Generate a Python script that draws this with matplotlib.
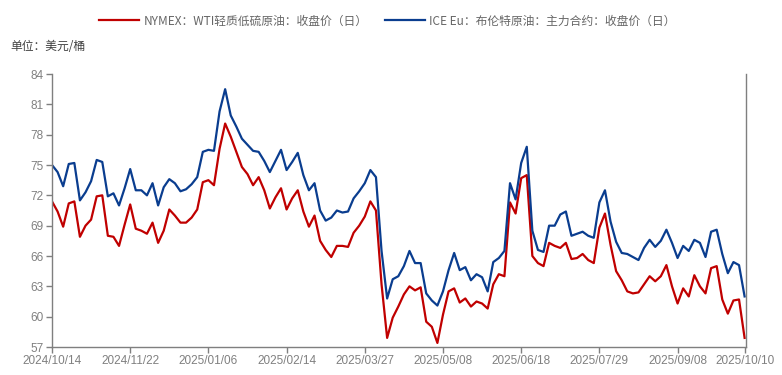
import numpy as np
import matplotlib.pyplot as plt

# one value every 2 trading days, 2024/10/14 .. 2025/10/10
wti = [71.4, 70.4, 68.9, 71.2, 71.4, 67.9, 69.0, 69.6, 71.9, 72.0,
       68.0, 67.9, 67.0, 69.1, 71.1, 68.7, 68.5, 68.2, 69.3, 67.3,
       68.5, 70.6, 70.0, 69.3, 69.3, 69.8, 70.6, 73.3, 73.5, 73.0,
       76.6, 79.1, 77.8, 76.3, 74.8, 74.1, 73.0, 73.8, 72.5, 70.7,
       71.8, 72.7, 70.6, 71.7, 72.5, 70.4, 68.9, 70.0, 67.5, 66.6,
       65.9, 67.0, 67.0, 66.9, 68.3, 69.0, 69.9, 71.4, 70.5, 63.2,
       57.9, 59.9, 61.0, 62.2, 63.0, 62.6, 62.9, 59.5, 59.0, 57.4,
       60.2, 62.5, 62.8, 61.4, 61.8, 61.0, 61.5, 61.3, 60.8, 63.2,
       64.2, 64.0, 71.3, 70.2, 73.7, 74.0, 66.0, 65.3, 65.0, 67.3,
       67.0, 66.8, 67.3, 65.7, 65.8, 66.2, 65.6, 65.3, 68.8, 70.2,
       67.1, 64.5, 63.6, 62.5, 62.3, 62.4, 63.2, 64.0, 63.5, 64.0,
       65.1, 63.0, 61.3, 62.8, 62.0, 64.1, 63.0, 62.3, 64.8, 65.0,
       61.7, 60.3, 61.6, 61.7, 57.9]

brent = [75.0, 74.3, 72.9, 75.1, 75.2, 71.5, 72.3, 73.4, 75.5, 75.3,
         71.9, 72.2, 71.0, 72.7, 74.6, 72.5, 72.5, 72.0, 73.2, 71.0,
         72.8, 73.6, 73.2, 72.4, 72.6, 73.1, 73.8, 76.3, 76.5, 76.4,
         80.3, 82.5, 79.9, 78.8, 77.6, 77.0, 76.4, 76.3, 75.4, 74.3,
         75.4, 76.5, 74.5, 75.3, 76.2, 74.0, 72.5, 73.2, 70.5, 69.5,
         69.8, 70.5, 70.3, 70.4, 71.7, 72.4, 73.2, 74.5, 73.8, 66.5,
         61.8, 63.7, 64.0, 65.0, 66.5, 65.3, 65.3, 62.3, 61.6, 61.1,
         62.5, 64.6, 66.3, 64.6, 64.9, 63.6, 64.2, 63.9, 62.5, 65.4,
         65.8, 66.5, 73.2, 71.6, 75.2, 76.8, 68.5, 66.6, 66.4, 69.0,
         69.0, 70.1, 70.4, 68.0, 68.2, 68.4, 68.0, 67.8, 71.3, 72.5,
         69.4, 67.4, 66.3, 66.2, 65.9, 65.6, 66.8, 67.6, 66.9, 67.5,
         68.6, 67.3, 65.8, 67.0, 66.5, 67.6, 67.3, 65.9, 68.4, 68.6,
         66.2, 64.3, 65.4, 65.1, 62.0]

tick_labels = ["2024/10/14", "2024/11/22", "2025/01/06", "2025/02/14", "2025/03/27",
               "2025/05/08", "2025/06/18", "2025/07/29", "2025/09/08", "2025/10/10"]
tick_days = [0, 28, 56, 84, 112, 140, 168, 196, 224, 248]

x = np.arange(len(wti)) * 2

cjk = ['Noto Sans CJK SC', 'DejaVu Sans']
num_font = ['Liberation Sans', 'DejaVu Sans']
grey = '#7f7f7f'

fig = plt.figure(figsize=(7.82, 3.75), dpi=100)
ax = fig.add_axes([52 / 782, 1 - 347 / 375, (746 - 52) / 782, (347 - 74) / 375])

ax.plot(x, wti, color='#C00000', lw=1.6, solid_joinstyle='round',
        label='NYMEX：WTI轻质低硫原油：收盘价（日）')
ax.plot(x, brent, color='#0A3D8F', lw=1.6, solid_joinstyle='round',
        label='ICE Eu：布伦特原油：主力合约：收盘价（日）')

ax.set_xlim(0, 248.5)
ax.set_ylim(57, 84)
ax.set_yticks(np.arange(57, 85, 3))
ax.set_xticks(tick_days)
ax.set_xticklabels(tick_labels)

for side in ['left', 'bottom', 'right']:
    ax.spines[side].set_color(grey)
    ax.spines[side].set_linewidth(1)
ax.spines['top'].set_visible(False)
ax.tick_params(axis='both', colors=grey, length=4, width=1, pad=2)
for lab in ax.get_xticklabels() + ax.get_yticklabels():
    lab.set_family(num_font)
    lab.set_fontsize(8.5)
    lab.set_color('#808080')

fig.legend(loc='center', bbox_to_anchor=(0.4955, 0.944), ncol=2, frameon=False,
           prop={'family': cjk, 'size': 8.5}, labelcolor='#666666',
           handlelength=3.4, handletextpad=0.4, columnspacing=1.4)

fig.text(10 / 782, 1 - 47 / 375, '单位：美元/桶', family=cjk, fontsize=8.5,
         color='#404040', va='center', ha='left')

fig.savefig('out.png', dpi=100)
